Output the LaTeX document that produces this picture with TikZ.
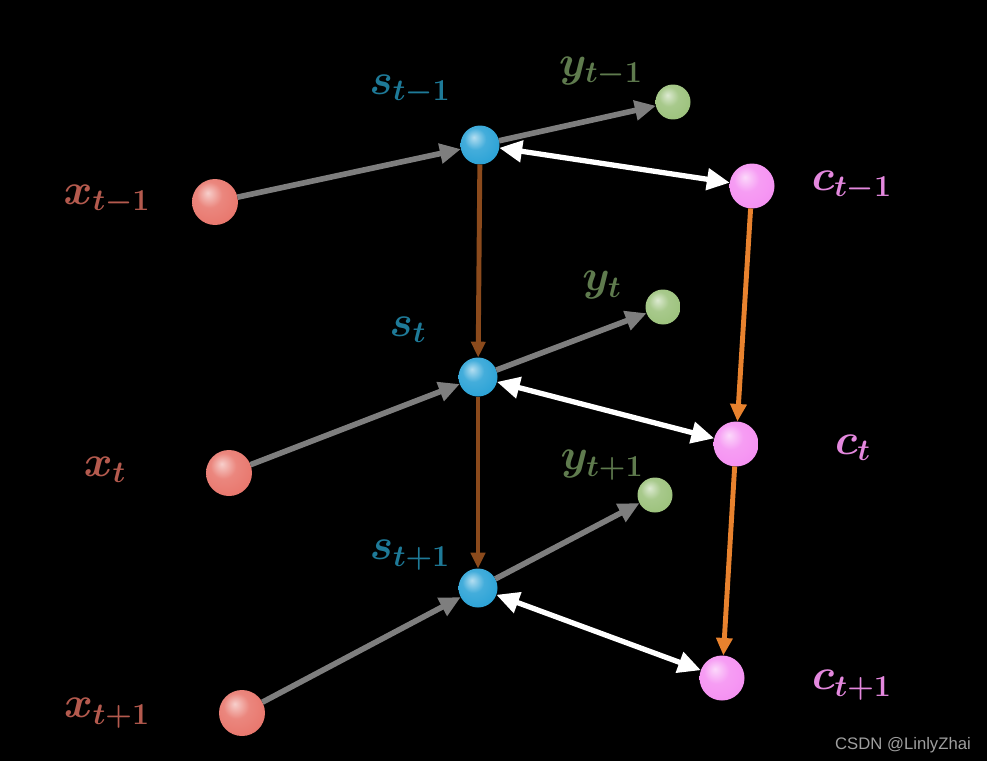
\documentclass[tikz,border=0pt]{standalone}
\usepackage{xcolor}
\usepackage{fontspec}
\usepackage{tikz}
\usetikzlibrary{arrows.meta}
\newfontfamily\marksf{Liberation Sans}

\definecolor{xred}{HTML}{E8766C}
\definecolor{sblue}{HTML}{2AA2D6}
\definecolor{ygreen}{HTML}{9CC27C}
\definecolor{cpink}{HTML}{F590F2}
\definecolor{xtext}{HTML}{B45A4E}
\definecolor{stext}{HTML}{1E7A98}
\definecolor{ytext}{HTML}{5F7B4E}
\definecolor{ctext}{HTML}{E488DE}
\definecolor{arrowgrey}{HTML}{7E7E7E}
\definecolor{sbrown}{HTML}{8B4A1C}
\definecolor{corange}{HTML}{E8822E}

\makeatletter
\pgfdeclareradialshading[tikz@ball]{glowball}{\pgfqpoint{-8bp}{10bp}}{%
  color(0bp)=(tikz@ball!35!white);
  color(14bp)=(tikz@ball!88!white);
  color(32bp)=(tikz@ball);
  color(48bp)=(tikz@ball!85!black);
  color(62bp)=(tikz@ball!70!black)}
\makeatother

\begin{document}
\begin{tikzpicture}[
	x=0.02cm, y=-0.02cm,
	font=\fontsize{26}{30}\selectfont\boldmath
]
\tikzset{
    myball/.style = {circle, inner sep=0pt, outer sep=0pt},
    xball/.style = {myball, ball color=xred, shading=glowball, minimum size=0.92cm},
    sball/.style = {myball, ball color=sblue, shading=glowball, minimum size=0.78cm},
    yball/.style = {myball, ball color=ygreen, shading=glowball, minimum size=0.7cm},
    cball/.style = {myball, ball color=cpink, shading=glowball, minimum size=0.9cm},
    greyarrow/.style = {draw=arrowgrey, line width=3.2pt, -{Triangle[length=12pt,width=11pt]}},
    whitearrow/.style = {draw=white, line width=3pt, {Triangle[length=13pt,width=12pt]}-{Triangle[length=13pt,width=12pt]}},
    brownarrow/.style = {draw=sbrown, line width=2.8pt, -{Triangle[length=9pt,width=8pt]}},
    orangearrow/.style = {draw=corange, line width=2.8pt, -{Triangle[length=10pt,width=9pt]}}
}
\fill[black] (0,0) rectangle (987,761);
% spheres
\node[xball] (x1) at (215,202) {};
\node[xball] (x2) at (229,473) {};
\node[xball] (x3) at (242,713) {};
\node[sball] (s1) at (480,145) {};
\node[sball] (s2) at (478,377) {};
\node[sball] (s3) at (478,588) {};
\node[yball] (y1) at (673,102) {};
\node[yball] (y2) at (663,307) {};
\node[yball] (y3) at (655,495) {};
\node[cball] (c1) at (752,186) {};
\node[cball] (c2) at (736,444) {};
\node[cball] (c3) at (722,678) {};
% labels
\node[text=xtext] (lx1) at (107,200) {$x_{t-1}$};
\node[text=xtext] (lx2) at (105,470) {$x_{t}$};
\node[text=xtext] (lx3) at (107,713) {$x_{t+1}$};
\node[text=stext] (ls1) at (410,90) {$s_{t-1}$};
\node[text=stext] (ls2) at (408,330) {$s_{t}$};
\node[text=stext] (ls3) at (410,555) {$s_{t+1}$};
\node[text=ytext] (ly1) at (601,72) {$y_{t-1}$};
\node[text=ytext] (ly2) at (602,285) {$y_{t}$};
\node[text=ytext] (ly3) at (602,465) {$y_{t+1}$};
\node[text=ctext] (lc1) at (852,186) {$c_{t-1}$};
\node[text=ctext] (lc2) at (853,448) {$c_{t}$};
\node[text=ctext] (lc3) at (852,685) {$c_{t+1}$};
\node[text=gray!75, font=\marksf\fontsize{9.5}{11}\selectfont] (mark) at (903,745) {CSDN @LinlyZhai};
% connectors
\draw[greyarrow] (x1) -- (s1);
\draw[greyarrow] (x2) -- (s2);
\draw[greyarrow] (x3) -- (s3);
\draw[greyarrow] (s1) -- (y1);
\draw[greyarrow] (s2) -- (y2);
\draw[greyarrow] (s3) -- (y3);
\draw[whitearrow] (s1) -- (c1);
\draw[whitearrow] (s2) -- (c2);
\draw[whitearrow] (s3) -- (c3);
\draw[brownarrow] (s1) -- (s2);
\draw[brownarrow] (s2) -- (s3);
\draw[orangearrow] (c1) -- (c2);
\draw[orangearrow] (c2) -- (c3);
\end{tikzpicture}
\end{document}
